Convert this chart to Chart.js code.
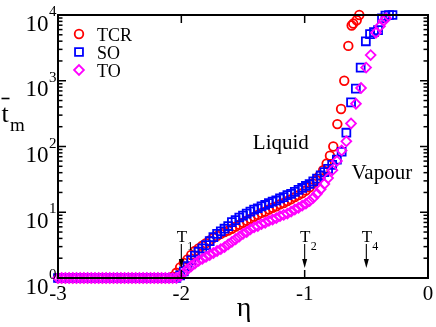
<!DOCTYPE html>
<html><head><meta charset="utf-8">
<script src="https://cdn.jsdelivr.net/npm/chart.js@4/dist/chart.umd.min.js"></script>
<style>html,body{margin:0;padding:0;background:#fff}canvas{display:block}</style>
</head><body>
<canvas id="c" width="436" height="327"></canvas>
<script>
// ---- data (eta, mean time) ----
const tcrEta = [-3.00,-2.97,-2.94,-2.91,-2.88,-2.85,-2.82,-2.79,-2.76,-2.73,-2.70,-2.67,-2.64,-2.61,-2.58,-2.55,-2.52,-2.49,-2.46,-2.43,-2.40,-2.37,-2.34,-2.31,-2.28,-2.25,-2.22,-2.19,-2.16,-2.13,-2.10,
 -2.07,-2.04,-2.01,-1.98,-1.95,-1.92,-1.89,-1.86,-1.83,-1.80,-1.77,-1.74,-1.71,-1.68,-1.65,-1.62,-1.59,-1.56,-1.53,-1.50,-1.47,-1.44,-1.41,-1.38,-1.35,-1.32,-1.29,-1.26,-1.23,-1.20,-1.17,-1.14,-1.11,-1.08,-1.05,-1.02,-0.99,-0.96,-0.934,-0.906,-0.878,-0.85,-0.822,-0.795,-0.768,-0.735,-0.705,-0.679,-0.646,-0.619,-0.606,-0.578,-0.557];
const tcrT = [1,1,1,1,1,1,1,1,1,1,1,1,1,1,1,1,1,1,1,1,1,1,1,1,1,1,1,1,1,1,1,
 1.05,1.20,1.45,1.70,1.91,2.24,2.57,2.82,3.09,3.39,3.72,4.07,4.37,4.68,5.01,5.25,5.62,6.03,6.46,6.92,7.41,7.94,8.51,9.12,9.77,10.2,11.0,11.7,12.3,13.2,13.8,14.8,15.8,17.0,18.2,19.5,21.4,24.0,27.5,30.9,36.3,43.7,55.0,72.4,100,219,372,1000,3390,6920,7410,8320,10000];

const soEta = [-3.00,-2.97,-2.94,-2.91,-2.88,-2.85,-2.82,-2.79,-2.76,-2.73,-2.70,-2.67,-2.64,-2.61,-2.58,-2.55,-2.52,-2.49,-2.46,-2.43,-2.40,-2.37,-2.34,-2.31,-2.28,-2.25,-2.22,-2.19,-2.16,-2.13,-2.10,-2.07,-2.04,
 -2.01,-1.98,-1.95,-1.92,-1.89,-1.86,-1.83,-1.80,-1.77,-1.74,-1.71,-1.68,-1.65,-1.62,-1.59,-1.56,-1.53,-1.50,-1.47,-1.44,-1.41,-1.38,-1.35,-1.32,-1.29,-1.26,-1.23,-1.20,-1.17,-1.14,-1.11,-1.08,-1.05,-1.02,-0.99,-0.96,-0.93,-0.90,-0.87,-0.84,-0.81,-0.777,-0.739,-0.700,-0.662,-0.624,-0.585,-0.546,-0.504,-0.470,-0.438,-0.405,-0.373,-0.345,-0.316,-0.288];
const soT = [1,1,1,1,1,1,1,1,1,1,1,1,1,1,1,1,1,1,1,1,1,1,1,1,1,1,1,1,1,1,1,1,1,
 1.10,1.26,1.51,1.86,2.19,2.51,2.82,3.16,3.63,4.17,4.68,5.13,5.62,6.17,7.08,7.59,8.32,8.91,9.55,10.2,11.0,11.5,12.3,12.9,13.8,14.5,15.1,16.2,17.0,18.2,19.1,20.4,21.9,23.4,25.1,26.9,29.5,32.4,36.3,40.7,45.7,52.5,63.1,83.2,162,468,759,1585,3981,5129,5495,5888,8913,9772,10000,10000];

const toEta = [-3.00,-2.97,-2.94,-2.91,-2.88,-2.85,-2.82,-2.79,-2.76,-2.73,-2.70,-2.67,-2.64,-2.61,-2.58,-2.55,-2.52,-2.49,-2.46,-2.43,-2.40,-2.37,-2.34,-2.31,-2.28,-2.25,-2.22,-2.19,-2.16,-2.13,-2.10,-2.07,-2.04,
 -2.01,-1.98,-1.95,-1.92,-1.89,-1.86,-1.83,-1.80,-1.77,-1.74,-1.71,-1.68,-1.65,-1.62,-1.59,-1.56,-1.53,-1.50,-1.47,-1.44,-1.41,-1.38,-1.35,-1.32,-1.29,-1.26,-1.23,-1.20,-1.17,-1.14,-1.11,-1.08,-1.05,-1.02,-0.99,-0.96,-0.93,-0.90,-0.87,-0.84,-0.81,-0.775,-0.738,-0.700,-0.662,-0.624,-0.584,-0.543,-0.502,-0.465,-0.422,-0.389,-0.361,-0.341];
const toT = [1,1,1,1,1,1,1,1,1,1,1,1,1,1,1,1,1,1,1,1,1,1,1,1,1,1,1,1,1,1,1,1,1,
 1.07,1.20,1.35,1.51,1.66,1.82,1.95,2.09,2.24,2.40,2.57,2.75,2.95,3.24,3.55,3.89,4.27,4.68,5.01,5.50,5.89,6.17,6.61,6.92,7.41,7.76,8.13,8.71,9.12,9.55,10.2,11.0,11.7,12.6,13.5,14.8,16.6,19.1,22.4,26.9,33.1,43.7,60.3,87.1,120,224,447,776,1585,2455,5370,6761,8128,8913];

const seriesNames = ["TCR","SO","TO"];
const xTicks = [-3,-2,-1,0];
const xTickLabels = ["-3","-2","-1","0"];
const yDecades = [1,10,100,1000,10000];
const yExponents = ["0","1","2","3","4"];
const markers = [{eta:-2.0,label:"1"},{eta:-1.0,label:"2"},{eta:-0.5,label:"4"}];
const phaseLabels = [{text:"Liquid",eta:-1.42,t:92},{text:"Vapour",eta:-0.62,t:31.7}];

const FONT = "'Liberation Serif', 'Times New Roman', serif";
const colors = ["#ff0000","#0000ff","#ff00ff"];
const styles = ["circle","rect","rectRot"];
const radii = [4.3,5.6,4.9];

function pts(xs, ys){ return xs.map((v,i)=>({x:v,y:ys[i]})); }
const allData = [pts(tcrEta,tcrT), pts(soEta,soT), pts(toEta,toT)];

const decor = {
  id:'decor',
  afterDatasetsDraw(chart){
    const {ctx, chartArea:a, scales:{x,y}} = chart;
    ctx.save();
    ctx.strokeStyle='#000'; ctx.fillStyle='#000';
    // frame
    ctx.lineWidth=2;
    ctx.strokeRect(a.left, a.top, a.right-a.left, a.bottom-a.top);
    ctx.lineWidth=1.5;
    const ln=(x1,y1,x2,y2)=>{ctx.beginPath();ctx.moveTo(x1,y1);ctx.lineTo(x2,y2);ctx.stroke();};
    xTicks.forEach(v=>{const px=x.getPixelForValue(v); ln(px,a.bottom,px,a.bottom-8); ln(px,a.top,px,a.top+8);});
    yDecades.forEach((d,i)=>{
      const py=y.getPixelForValue(d);
      ln(a.left,py,a.left+8,py); ln(a.right,py,a.right-8,py);
      if(i<yDecades.length-1){
        for(let m=2;m<=9;m++){const q=y.getPixelForValue(m*d); ln(a.left,q,a.left+4.5,q); ln(a.right,q,a.right-4.5,q);}
      }
    });
    // y tick labels
    yDecades.forEach((d,i)=>{
      const py=y.getPixelForValue(d);
      ctx.font="23px "+FONT; ctx.textAlign='right'; ctx.textBaseline='alphabetic';
      ctx.fillText("10", 48.5, py+15.5);
      ctx.font="15px "+FONT; ctx.textAlign='left';
      ctx.fillText(yExponents[i], 49, py+1);
    });
    // x tick labels
    ctx.font="21px "+FONT; ctx.textAlign='center';
    xTicks.forEach((v,i)=>{ ctx.fillText(xTickLabels[i], x.getPixelForValue(v), 300); });
    // axis titles
    ctx.font="28px "+FONT; ctx.textAlign='center';
    ctx.fillText("η", 244, 316);
    ctx.font="26px "+FONT; ctx.textAlign='left';
    ctx.fillText("t", 1.5, 122);
    ctx.lineWidth=1.6; ln(1.5,98.5,9.5,98.5);
    ctx.font="19px "+FONT;
    ctx.fillText("m", 10, 131);
    // legend
    const ly=[34,52,70];
    seriesNames.forEach((n,i)=>{
      ctx.strokeStyle=colors[i]; ctx.fillStyle='rgba(0,0,0,0)'; ctx.lineWidth=1.8;
      Chart.helpers.drawPoint(ctx,{pointStyle:styles[i],radius:radii[i],borderWidth:1.8,rotation:0},79,ly[i]);
      ctx.fillStyle='#000'; ctx.font="18px "+FONT; ctx.textAlign='left';
      ctx.fillText(n, 97, ly[i]+7);
    });
    ctx.strokeStyle='#000'; ctx.fillStyle='#000';
    // phase labels
    ctx.font="21px "+FONT; ctx.textAlign='left';
    phaseLabels.forEach(p=>{ ctx.fillText(p.text, x.getPixelForValue(p.eta), y.getPixelForValue(p.t)); });
    // temperature markers
    markers.forEach(mk=>{
      const px=x.getPixelForValue(mk.eta);
      ctx.font="17px "+FONT; ctx.textAlign='center';
      ctx.fillText("T", px+0.5, 242);
      ctx.font="12px "+FONT; ctx.textAlign='left';
      ctx.fillText(mk.label, px+6, 250);
      ctx.lineWidth=1.1; ln(px,244,px,262);
      ctx.beginPath(); ctx.moveTo(px-2.5,259); ctx.lineTo(px,268); ctx.lineTo(px+2.5,259); ctx.closePath(); ctx.fill();
    });
    ctx.restore();
  }
};

new Chart(document.getElementById('c'),{
  type:'scatter',
  data:{datasets: seriesNames.map((n,i)=>({
    label:n, data:allData[i], showLine:false,
    pointStyle:styles[i], pointRadius:radii[i], pointHoverRadius:radii[i],
    borderColor:colors[i], backgroundColor:'rgba(0,0,0,0)', pointBorderWidth:1.8,
    order:3-i, clip:false
  }))},
  options:{
    responsive:false, animation:false, devicePixelRatio:1,
    layout:{padding:{left:58,right:8,top:15,bottom:49}},
    scales:{
      x:{type:'linear',min:-3,max:0,display:false},
      y:{type:'logarithmic',min:1,max:10000,display:false}
    },
    plugins:{legend:{display:false},tooltip:{enabled:false}}
  },
  plugins:[decor]
});
</script>
</body></html>
